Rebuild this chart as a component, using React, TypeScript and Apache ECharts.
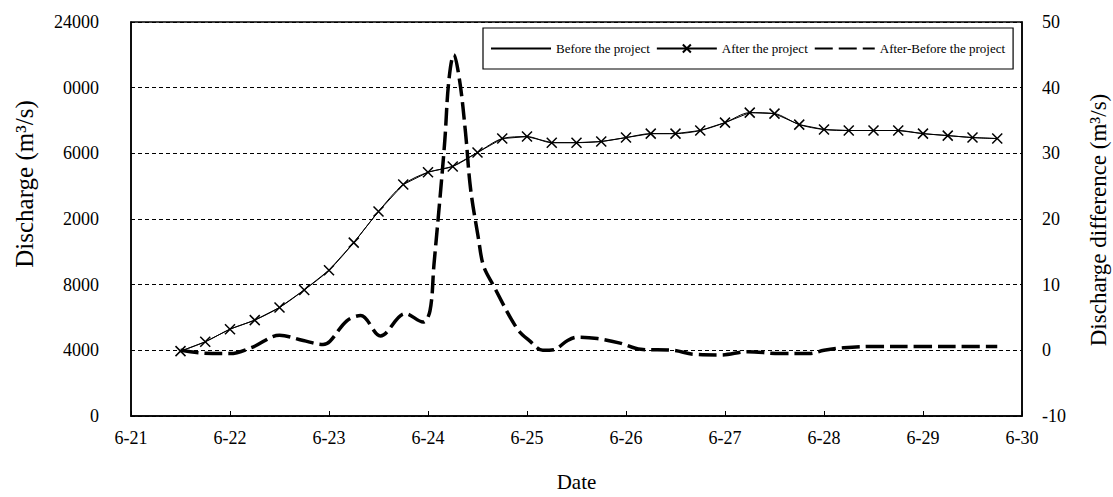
import React, { useEffect, useRef } from "react";
import * as echarts from "echarts";

// Time in days since 6-21 00:00
const flowTimes = [
  0.5, 0.75, 1.0, 1.25, 1.5, 1.75, 2.0, 2.25, 2.5, 2.75,
  3.0, 3.25, 3.5, 3.75, 4.0, 4.25, 4.5, 4.75, 5.0, 5.25,
  5.5, 5.75, 6.0, 6.25, 6.5, 6.75, 7.0, 7.25, 7.5, 7.75,
  8.0, 8.25, 8.5, 8.75,
];
const beforeValues = [
  3950, 4520, 5290, 5840, 6610, 7680, 8880, 10560, 12460, 14100,
  14850, 15200, 16050, 16900, 17020, 16650, 16650, 16720, 16960, 17200,
  17200, 17390, 17870, 18480, 18420, 17750, 17450, 17390, 17390, 17390,
  17200, 17080, 16960, 16900,
];
const afterValues = [
  3950, 4520, 5290, 5840, 6610, 7680, 8880, 10560, 12460, 14100,
  14850, 15200, 16050, 16900, 17020, 16650, 16650, 16720, 16960, 17200,
  17200, 17390, 17870, 18480, 18420, 17750, 17450, 17390, 17390, 17390,
  17200, 17080, 16960, 16900,
];
const diffTimes = [
  0.5, 0.7, 1.0, 1.23, 1.5, 1.74, 1.94, 2.01, 2.18, 2.32,
  2.52, 2.77, 2.95, 3.02, 3.06, 3.12, 3.17, 3.21, 3.26, 3.32,
  3.38, 3.43, 3.51, 3.56, 3.66, 3.9, 4.03, 4.16, 4.27, 4.41,
  4.51, 4.71, 4.94, 5.15, 5.48, 5.68, 5.96, 6.23, 6.55, 6.85,
  7.0, 7.2, 7.5, 8.0, 8.5, 8.75,
];
const diffValues = [
  0, -0.4, -0.5, 0.5, 2.3, 1.5, 0.9, 1.4, 4.5, 5.3,
  2.2, 5.6, 4.3, 6, 13, 23, 32, 41, 45, 41,
  33, 24.6, 17, 12.9, 9.9, 3.3, 1.4, 0, 0.1, 1.5,
  2.0, 1.8, 1.1, 0.15, 0, -0.6, -0.7, -0.2, -0.5, -0.5,
  0, 0.4, 0.6, 0.6, 0.6, 0.6,
];
const dateLabels = ["6-21", "6-22", "6-23", "6-24", "6-25", "6-26", "6-27", "6-28", "6-29", "6-30"];
const leftTickLabels = ["0", "4000", "8000", "2000", "6000", "0000", "24000"];
const seriesNames = ["Before the project", "After the project", "After-Before the project"];
const leftAxisName = "Discharge (m³/s)";
const rightAxisName = "Discharge difference (m³/s)";
const xAxisName = "Date";

const FONT = "Liberation Serif";

export default function App() {
  const ref = useRef<HTMLDivElement>(null);
  useEffect(() => {
    if (!ref.current) return;
    const chart = echarts.init(ref.current, null, { renderer: "svg" });
    const cross = "path://M0,0L10,10M10,0L0,10";
    chart.setOption({
      animation: false,
      backgroundColor: "#fff",
      textStyle: { fontFamily: FONT, color: "#000" },
      grid: {
        left: 131,
        right: 91,
        top: 22,
        bottom: 80,
        show: true,
        borderColor: "#000",
        borderWidth: 1.5,
      },
      legend: {
        left: 483,
        top: 28,
        padding: [14, 8, 14, 7],
        itemGap: 6,
        itemWidth: 60,
        itemHeight: 10,
        borderColor: "#000",
        borderWidth: 1.2,
        backgroundColor: "#fff",
        textStyle: { fontFamily: FONT, fontSize: 13, color: "#000" },
        data: [
          { name: seriesNames[0], itemStyle: { opacity: 0 } },
          { name: seriesNames[1] },
          { name: seriesNames[2], itemStyle: { opacity: 0 } },
        ],
      },
      graphic: [
        {
          type: "text",
          x: 24,
          y: 184,
          rotation: Math.PI / 2,
          style: {
            text: leftAxisName,
            font: `25px ${FONT}`,
            fill: "#000",
            textAlign: "center",
            textVerticalAlign: "middle",
          },
        },
        {
          type: "text",
          x: 1098,
          y: 220,
          rotation: Math.PI / 2,
          style: {
            text: rightAxisName,
            font: `23px ${FONT}`,
            fill: "#000",
            textAlign: "center",
            textVerticalAlign: "middle",
          },
        },
      ],
      xAxis: {
        type: "value",
        min: 0,
        max: 9,
        interval: 1,
        name: xAxisName,
        nameLocation: "middle",
        nameGap: 55,
        nameTextStyle: { fontFamily: FONT, fontSize: 21, color: "#000" },
        axisLine: { show: true, lineStyle: { color: "#000", width: 1.5 } },
        axisTick: { show: true, inside: true, length: 5, lineStyle: { color: "#000" } },
        axisLabel: {
          margin: 13,
          fontFamily: FONT,
          fontSize: 18,
          color: "#000",
          formatter: (v: number) => dateLabels[Math.round(v)] ?? "",
        },
        splitLine: { show: false },
      },
      yAxis: [
        {
          type: "value",
          min: 0,
          max: 24000,
          interval: 4000,
          axisLine: { show: true, lineStyle: { color: "#000", width: 1.5 } },
          axisTick: { show: false },
          axisLabel: {
            margin: 32,
            fontFamily: FONT,
            fontSize: 18,
            color: "#000",
            formatter: (v: number) => leftTickLabels[Math.round(v / 4000)] ?? "",
          },
          splitLine: {
            show: true,
            lineStyle: { color: "#000", type: [4, 3], width: 1 },
          },
        },
        {
          type: "value",
          min: -10,
          max: 50,
          interval: 10,
          axisLine: { show: true, lineStyle: { color: "#000", width: 1.5 } },
          axisTick: { show: false },
          axisLabel: { margin: 20, fontFamily: FONT, fontSize: 18, color: "#000" },
          splitLine: { show: false },
        },
      ],
      series: [
        {
          name: seriesNames[0],
          type: "line",
          yAxisIndex: 0,
          smooth: 0.3,
          symbol: "none",
          lineStyle: { color: "#000", width: 1 },
          itemStyle: { color: "#000" },
          data: flowTimes.map((t, i) => [t, beforeValues[i]]),
          z: 3,
        },
        {
          name: seriesNames[1],
          type: "line",
          yAxisIndex: 0,
          symbol: cross,
          symbolSize: 10,
          lineStyle: { color: "#000", width: 1 },
          itemStyle: { color: "#000", borderColor: "#000", borderWidth: 1.5 },
          data: flowTimes.map((t, i) => [t, afterValues[i]]),
          z: 4,
        },
        {
          name: seriesNames[2],
          type: "line",
          yAxisIndex: 1,
          smooth: 0.35,
          symbol: "none",
          lineStyle: { color: "#000", width: 3.5, type: [18, 6] },
          itemStyle: { color: "#000" },
          data: diffTimes.map((t, i) => [t, diffValues[i]]),
          z: 2,
        },
      ],
    });
    return () => chart.dispose();
  }, []);
  return (
    <div
      ref={ref}
      style={{ position: "fixed", left: 0, top: 0, width: 1113, height: 497, background: "#fff" }}
    />
  );
}
